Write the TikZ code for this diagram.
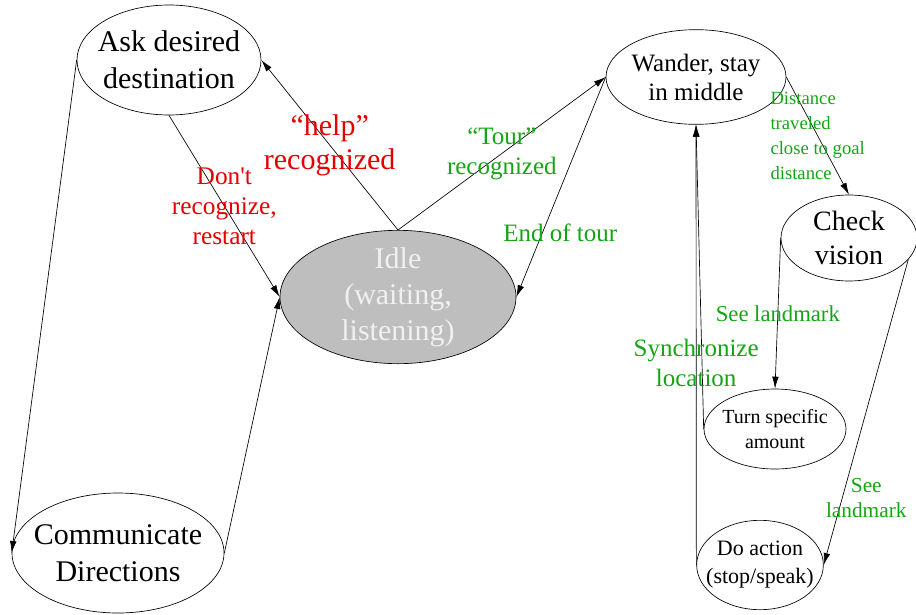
\documentclass[tikz,border=0pt]{standalone}
\usepackage{fontspec}
\setmainfont{Liberation Serif}
\usetikzlibrary{shapes.geometric, arrows.meta, positioning, calc}
\definecolor{lblred}{RGB}{228,0,0}
\definecolor{lblgreen}{RGB}{20,165,20}
\definecolor{idlefill}{RGB}{190,190,190}
\definecolor{idletext}{RGB}{240,240,240}
\newcommand{\fsz}[2]{\fontsize{#1}{#2}\selectfont}

\begin{document}
\begin{tikzpicture}[
    x=0.75pt, y=-0.75pt,
    state/.style={draw, ellipse, inner sep=-60pt, align=center, line width=0.5pt},
    arr/.style={-{Latex[length=9pt, width=5pt]}, line width=0.5pt},
    redlbl/.style={text=lblred, align=center, inner sep=0pt},
    greenlbl/.style={text=lblgreen, align=center, inner sep=0pt}
]
\useasboundingbox (0,0) rectangle (916,614);

% states
\node[state, minimum width=138pt, minimum height=82.5pt, font=\fsz{22.5pt}{27.75pt}] (ask) at (169,60) {Ask desired\\destination};
\node[state, fill=idlefill, text=idletext, minimum width=177pt, minimum height=100pt, font=\fsz{22.5pt}{27pt}] (idle) at (398,297) {Idle\\(waiting,\\listening)};
\node[state, minimum width=159pt, minimum height=90pt, font=\fsz{22.5pt}{27.75pt}] (comm) at (118,553) {Communicate\\Directions};
\node[state, minimum width=135pt, minimum height=71pt, font=\fsz{18.75pt}{21.75pt}] (wander) at (696,77) {Wander, stay\\in middle};
\node[state, minimum width=102pt, minimum height=64.5pt, font=\fsz{21pt}{25.5pt}] (check) at (849,238) {Check\\vision};
\node[state, minimum width=106.5pt, minimum height=60pt, font=\fsz{15pt}{18.75pt}] (turn) at (775,429) {Turn specific\\amount};
\node[state, minimum width=95pt, minimum height=67pt, font=\fsz{16.5pt}{21pt}] (act) at (760,565) {Do action\\(stop/speak)};

% transitions
\draw[arr] (idle.north) -- node[redlbl, font=\fsz{22.5pt}{25.5pt}] {“help”\\recognized} (ask.east);
\draw[arr] (ask.south) -- node[redlbl, font=\fsz{19pt}{22.5pt}] {Don\textquotesingle t\\recognize,\\restart} (idle.west);
\draw[arr] (ask.west) -- (comm.west);
\draw[arr] (comm.east) -- (idle.west);
\draw[arr] (idle.north) -- node[greenlbl, font=\fsz{18.75pt}{22.5pt}] {“Tour”\\recognized} (wander.west);
\draw[arr] (wander.west) -- node[greenlbl, pos=0.71, xshift=13.5pt, font=\fsz{18.75pt}{22.5pt}] {End of tour} (idle.east);
\draw[arr] (wander.east) -- node[greenlbl, align=left, font=\fsz{14pt}{18.75pt}] {Distance\\traveled\\close to goal\\distance} (check.north);
\draw[arr] (check.west) -- node[greenlbl, font=\fsz{17pt}{20pt}] {See landmark} (turn.north);
\draw[arr] (check.-20) -- node[greenlbl, pos=0.78, xshift=18pt, font=\fsz{16pt}{18.75pt}] {See\\landmark} (act.east);
\draw[arr] (turn.west) -- (wander.south);
\draw[arr] (act.west) -- node[greenlbl, pos=0.46, font=\fsz{18.75pt}{22.5pt}] {Synchronize\\location} (wander.south);
\end{tikzpicture}
\end{document}
